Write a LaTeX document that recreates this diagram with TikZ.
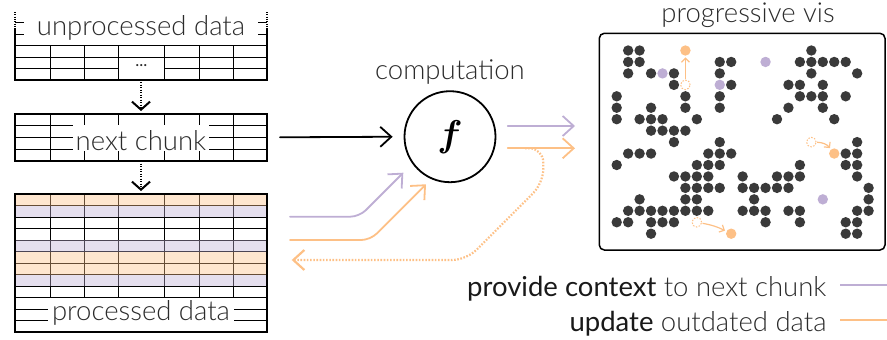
\documentclass[tikz,border=0pt]{standalone}
\usepackage{fontspec}
\setmainfont{Lato Light}[BoldFont={Lato}]
\usepackage{bm}
\usetikzlibrary{arrows.meta,calc}
\definecolor{vpurple}{HTML}{BEAED4}
\definecolor{vorange}{HTML}{FDC086}
\definecolor{dotgray}{HTML}{3A3A3A}
\definecolor{txt}{HTML}{2B2B2B}
\begin{document}
\begin{tikzpicture}[x=1pt,y=-1pt,
  gridline/.style={line width=0.9pt, black},
  border/.style={line width=2pt, black},
  lbl/.style={font=\fontsize{27.5}{27.5}\selectfont, text=txt, fill=white, inner sep=0pt, anchor=base, align=center},
  legend/.style={font=\fontsize{27.5}{27.5}\selectfont, text=txt, inner sep=0pt, anchor=base east},
  bigarrow/.style={-{Straight Barb[length=11pt,width=20pt]}, line width=1.8pt, line cap=round},
  chunkarrow/.style={-{Straight Barb[length=8pt,width=18pt]}, line width=2pt, dash pattern=on 1.2pt off 1.3pt},
  vdot/.style={circle, fill=dotgray, minimum size=10.4pt, inner sep=0pt},
  pdot/.style={circle, fill=vpurple, minimum size=10.4pt, inner sep=0pt},
  odot/.style={circle, fill=vorange, minimum size=10.4pt, inner sep=0pt},
  ddot/.style={circle, draw=vorange, dash pattern=on 1.5pt off 1.5pt, line width=1pt, minimum size=9.6pt, inner sep=0pt},
  movearrow/.style={vorange, line width=1.2pt, -{Straight Barb[length=4pt,width=8pt]}},
]
\useasboundingbox (0,0) rectangle (887,340);

% ---------- table 1: unprocessed data ----------
\foreach \y in {22.7,34.2,45.7,57.2} \draw[gridline] (15,\y) -- (267,\y);
\draw[gridline] (15,68.7) -- (118.3,68.7) (164.3,68.7) -- (267,68.7);
\foreach \x in {50,84.3,118.3,164.3,199,233.3} \draw[gridline] (\x,45.7) -- (\x,80);
\node[lbl, text height=21pt, text depth=6pt, minimum width=234pt] (L1) at (141,35) {unprocessed data};
\node[font=\fontsize{17}{17}\selectfont\bfseries, text=txt, inner sep=0pt] (ell) at (141.3,65.5) {...};
\draw[border] (15,29) -- (15,80) -- (267,80) -- (267,29);
\draw[border, dash pattern=on 1pt off 1.3pt] (15,12) -- (15,29) (267,12) -- (267,29);
\node[minimum width=252pt, minimum height=34.3pt, inner sep=0pt] (T1) at (141,62.85) {};

% ---------- table 2: next chunk ----------
\foreach \y in {125.7,137.3,149} \draw[gridline] (15,\y) -- (267,\y);
\foreach \x in {50,84.3,118.3,164.3,199,233.3} \draw[gridline] (\x,114) -- (\x,160.7);
\node[lbl, text height=25.5pt, text depth=0.5pt, minimum width=136pt] (L2) at (141,150) {next chunk};
\node[draw, border, minimum width=252pt, minimum height=46.7pt, inner sep=0pt] (T2) at (141,137.35) {};

% ---------- table 3: processed data ----------
\foreach \k in {1,...,11} \draw[gridline] (15,{194+11.5*\k}) -- (267,{194+11.5*\k});
\foreach \x in {50,84.3,118.3,164.3,199,233.3} \draw[gridline] (\x,194) -- (\x,297.5);
\foreach \k in {0,5,6} \fill[vorange, opacity=0.4] (15,{194+11.5*\k}) rectangle (267,{205.5+11.5*\k});
\foreach \k in {1,4,7} \fill[vpurple, opacity=0.4] (15,{194+11.5*\k}) rectangle (267,{205.5+11.5*\k});
\node[lbl, text height=20pt, text depth=10pt, minimum width=186pt] (L3) at (141,320) {processed data};
\node[draw, border, minimum width=252pt, minimum height=138pt, inner sep=0pt] (T3) at (141,263) {};

\draw[chunkarrow, shorten <=2pt, shorten >=2pt] (T1.south) -- (T2.north);
\draw[chunkarrow, shorten <=2pt, shorten >=2pt] (T2.south) -- (T3.north);

% ---------- computation ----------
\node[circle, draw, line width=1.8pt, minimum size=91pt, inner sep=0pt,
      font=\fontsize{24.88}{24.88}\selectfont] (F) at (450,136.7) {\scalebox{1.5}{$\bm{f}$}};
\node[legend, anchor=base] (comp) at (450,79.3) {computation};
\draw[bigarrow, shorten <=12pt, shorten >=11pt] (T2.east) -- (F.west);

\coordinate (pin0) at (290,216.7);
\coordinate (pin1) at (359.3,216.7);
\coordinate (pin2) at (403.3,172.7);
\coordinate (oin0) at (290,240);
\coordinate (oin1) at (370.3,240);
\coordinate (oin2) at (426,184.3);
\draw[bigarrow, vpurple, rounded corners=9pt] (pin0) -- (pin1) -- (pin2);
\draw[bigarrow, vorange, rounded corners=9pt] (oin0) -- (oin1) -- (oin2);

\coordinate (pout0) at (507.7,126);
\coordinate (pout1) at (575,126);
\coordinate (oout0) at (507.7,148.3);
\coordinate (oout1) at (575,148.3);
\draw[bigarrow, vpurple] (pout0) -- (pout1);
\draw[bigarrow, vorange] (oout0) -- (oout1);

\coordinate (back0) at (525,148.3);
\coordinate (back1) at (543.3,148.3);
\coordinate (back2) at (543.3,183);
\coordinate (back3) at (466.3,260);
\coordinate (back4) at (291.7,260);
\draw[vorange, line width=2.2pt, dash pattern=on 1.6pt off 1.6pt, rounded corners=14pt,
      -{Straight Barb[length=11pt,width=20pt,sep=0pt]}] (back0) -- (back1) -- (back2) -- (back3) -- (back4);

% ---------- progressive vis ----------
\node[legend, anchor=base] (vistitle) at (748,22.5) {progressive vis};
\node[draw, line width=1.5pt, rounded corners=5pt, minimum width=285.7pt, minimum height=216.7pt, inner sep=0pt] (V) at (742.15,141.65) {};

\foreach \c/\r in {1/0,2/0,17/0,
  1/1,2/1,9/1,10/1,16/1,17/1,18/1,19/1,20/1,
  1/2,3/2,5/2,9/2,17/2,21/2,
  5/3,10/3,15/3,16/3,18/3,
  0/4,6/4,9/4,16/4,17/4,18/4,20/4,
  0/5,3/5,6/5,9/5,15/5,18/5,
  0/6,2/6,3/6,4/6,7/6,14/6,19/6,
  3/7,4/7,5/7,6/7,
  5/8,9/8,21/8,
  1/9,2/9,3/9,8/9,9/9,10/9,20/9,21/9,
  0/10,7/10,8/10,9/10,16/10,20/10,21/10,
  5/11,6/11,7/11,8/11,11/11,14/11,15/11,16/11,21/11,
  6/12,7/12,8/12,9/12,11/12,12/12,13/12,14/12,15/12,22/12,
  2/13,6/13,7/13,12/13,22/13,
  1/14,2/14,3/14,4/14,5/14,6/14,7/14,8/14,11/14,12/14,13/14,15/14,16/14,21/14,22/14,
  0/15,1/15,3/15,4/15,5/15,13/15,16/15,20/15,21/15,
  3/16,20/16,21/16}
  \node[vdot] (d-\c-\r) at ({616.7+11.45*\c},{50.5+11.45*\r}) {};

\foreach \c/\r in {4/2,9/3,13/1,18/13}
  \node[pdot] (p-\c-\r) at ({616.7+11.45*\c},{50.5+11.45*\r}) {};

\node[odot] (o1) at ({616.7+11.45*6},{50.5+11.45*0}) {};
\node[odot] (o2) at ({616.7+11.45*19},{50.5+11.45*9}) {};
\node[odot] (o3) at ({616.7+11.45*10},{50.5+11.45*16}) {};
\node[ddot] (q1) at ({616.7+11.45*6},{50.5+11.45*3}) {};
\node[ddot] (q2) at ({616.7+11.45*17},{50.5+11.45*8}) {};
\node[ddot] (q3) at ({616.7+11.45*7},{50.5+11.45*15}) {};
\draw[movearrow, shorten <=0.5pt, shorten >=1.5pt] (q1) -- (o1);
\draw[movearrow, shorten <=0.5pt, shorten >=1.5pt] (q2) to[bend left=25] (o2);
\draw[movearrow, shorten <=0.5pt, shorten >=1.5pt] (q3) to[bend left=8] (o3);

% ---------- legend ----------
\node[legend] (leg1) at (826.7,296) {{\bfseries\color{black!90}provide context} to next chunk};
\node[legend] (leg2) at (826.7,331.7) {{\bfseries\color{black!90}update} outdated data};
\coordinate (lp0) at (840,285);
\coordinate (lp1) at (887,285);
\coordinate (lo0) at (840,320);
\coordinate (lo1) at (887,320);
\draw[vpurple, line width=2pt] (lp0) -- (lp1);
\draw[vorange, line width=2pt] (lo0) -- (lo1);
\end{tikzpicture}
\end{document}
